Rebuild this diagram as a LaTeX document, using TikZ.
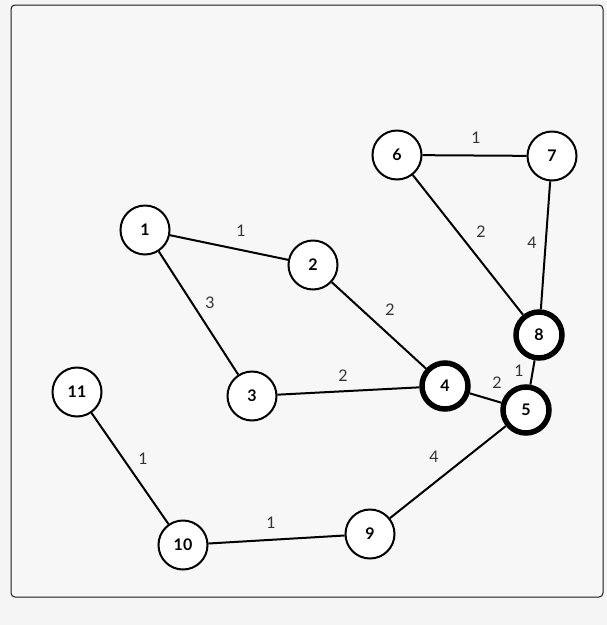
\documentclass[tikz,border=0pt]{standalone}
\usepackage{fontspec}
\setmainfont{Lato}
\begin{document}
\begin{tikzpicture}[x=1pt,y=-1pt,
  v/.style={circle,draw,line width=2pt,fill=white,minimum size=49pt,inner sep=0pt,font=\bfseries\fontsize{16}{16}\selectfont},
  h/.style={v,line width=5.5pt,minimum size=46pt},
  e/.style={line width=2pt},
  w/.style={font=\fontsize{16}{16}\selectfont,text=black!80}]
\useasboundingbox[fill=white!96!black] (0,0) rectangle (607,625);
\draw[fill=white!97!black,draw=black!90,line width=1pt,rounded corners=4pt] (11,5) rectangle (603,597);
\node[v] (n1) at (145,230) {1};
\node[v] (n2) at (313,265) {2};
\node[v] (n3) at (252,396) {3};
\node[h] (n4) at (445,386) {4};
\node[h] (n5) at (526,410) {5};
\node[v] (n6) at (397,155) {6};
\node[v] (n7) at (552,156) {7};
\node[h] (n8) at (539,335) {8};
\node[v] (n9) at (370,534) {9};
\node[v] (n10) at (183,545) {10};
\node[v] (n11) at (77,392) {11};
\draw[e] (n1) -- (n2);
\draw[e] (n1) -- (n3);
\draw[e] (n2) -- (n4);
\draw[e] (n3) -- (n4);
\draw[e] (n4) -- (n5);
\draw[e] (n5) -- (n8);
\draw[e] (n6) -- (n7);
\draw[e] (n6) -- (n8);
\draw[e] (n7) -- (n8);
\draw[e] (n5) -- (n9);
\draw[e] (n9) -- (n10);
\draw[e] (n10) -- (n11);
\node[w] (l12) at (241,231) {1};
\node[w] (l13) at (210,303) {3};
\node[w] (l24) at (390,310) {2};
\node[w] (l34) at (343,376) {2};
\node[w] (l45) at (497,383) {2};
\node[w] (l58) at (519,371) {1};
\node[w] (l67) at (476,138) {1};
\node[w] (l68) at (481,232) {2};
\node[w] (l78) at (532,243) {4};
\node[w] (l59) at (434,457) {4};
\node[w] (l910) at (271,523) {1};
\node[w] (l1011) at (143,459) {1};
\end{tikzpicture}
\end{document}
